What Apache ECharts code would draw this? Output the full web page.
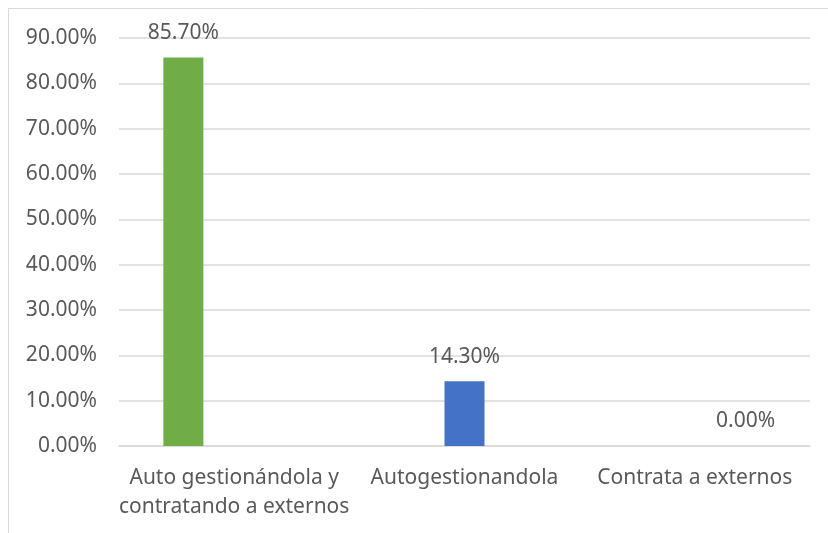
<!DOCTYPE html>
<html lang="es">
<head>
<meta charset="utf-8">
<title>Gestión</title>
<script src="https://cdn.jsdelivr.net/npm/echarts@6/dist/echarts.min.js"></script>
<style>
  html, body { margin: 0; padding: 0; background: #fff; }
  #main { width: 828px; height: 533px; }
</style>
</head>
<body>
<div id="main"></div>
<script>
// datos
var categorias = ['Auto gestionándola y\ncontratando a externos', 'Autogestionandola', 'Contrata a externos'];
var serieAmbos = [85.7, null, null];
var serieAuto = [null, 14.3, null];
var serieExternos = [null, null, 0];
var yMin = 0, yMax = 90, yPaso = 10;

var fuente = 'Noto Sans';
var gris = '#595959';

function etiqueta() {
  return {
    show: true,
    position: 'top',
    distance: 14,
    color: gris,
    fontFamily: fuente,
    fontSize: 21,
    formatter: function (p) { return p.value.toFixed(2) + '%'; }
  };
}

var myChart = echarts.init(document.getElementById('main'));
var option = {
  animation: false,
  backgroundColor: '#fff',
  graphic: [{
    type: 'rect',
    shape: { x: 8.5, y: 8.5, width: 840, height: 560 },
    style: { fill: 'none', stroke: '#d9d9d9', lineWidth: 1 },
    silent: true
  }],
  grid: { left: 119, right: 18, top: 38, bottom: 87 },
  xAxis: {
    type: 'category',
    data: categorias,
    axisTick: { show: false },
    axisLine: { lineStyle: { color: '#d9d9d9', width: 1.5 } },
    axisLabel: { color: gris, fontFamily: fuente, fontSize: 21, lineHeight: 29, margin: 18, interval: 0 }
  },
  yAxis: {
    type: 'value',
    min: yMin,
    max: yMax,
    interval: yPaso,
    axisLine: { show: false },
    axisTick: { show: false },
    splitLine: { lineStyle: { color: '#d9d9d9', width: 1.5 } },
    axisLabel: {
      color: gris, fontFamily: fuente, fontSize: 21, margin: 22,
      formatter: function (v) { return v.toFixed(2) + '%'; }
    }
  },
  series: [
    { name: 'Ambos', type: 'bar', data: serieAmbos, barWidth: 40, barGap: '27%', itemStyle: { color: '#70ad47' }, label: etiqueta() },
    { name: 'Auto', type: 'bar', data: serieAuto, barWidth: 40, barGap: '27%', itemStyle: { color: '#4472c4' }, label: etiqueta() },
    { name: 'Externos', type: 'bar', data: serieExternos, barWidth: 40, barGap: '27%', itemStyle: { color: '#a5a5a5' }, label: etiqueta() }
  ]
};
myChart.setOption(option);
window.addEventListener('resize', function () { myChart.resize(); });
</script>
</body>
</html>
